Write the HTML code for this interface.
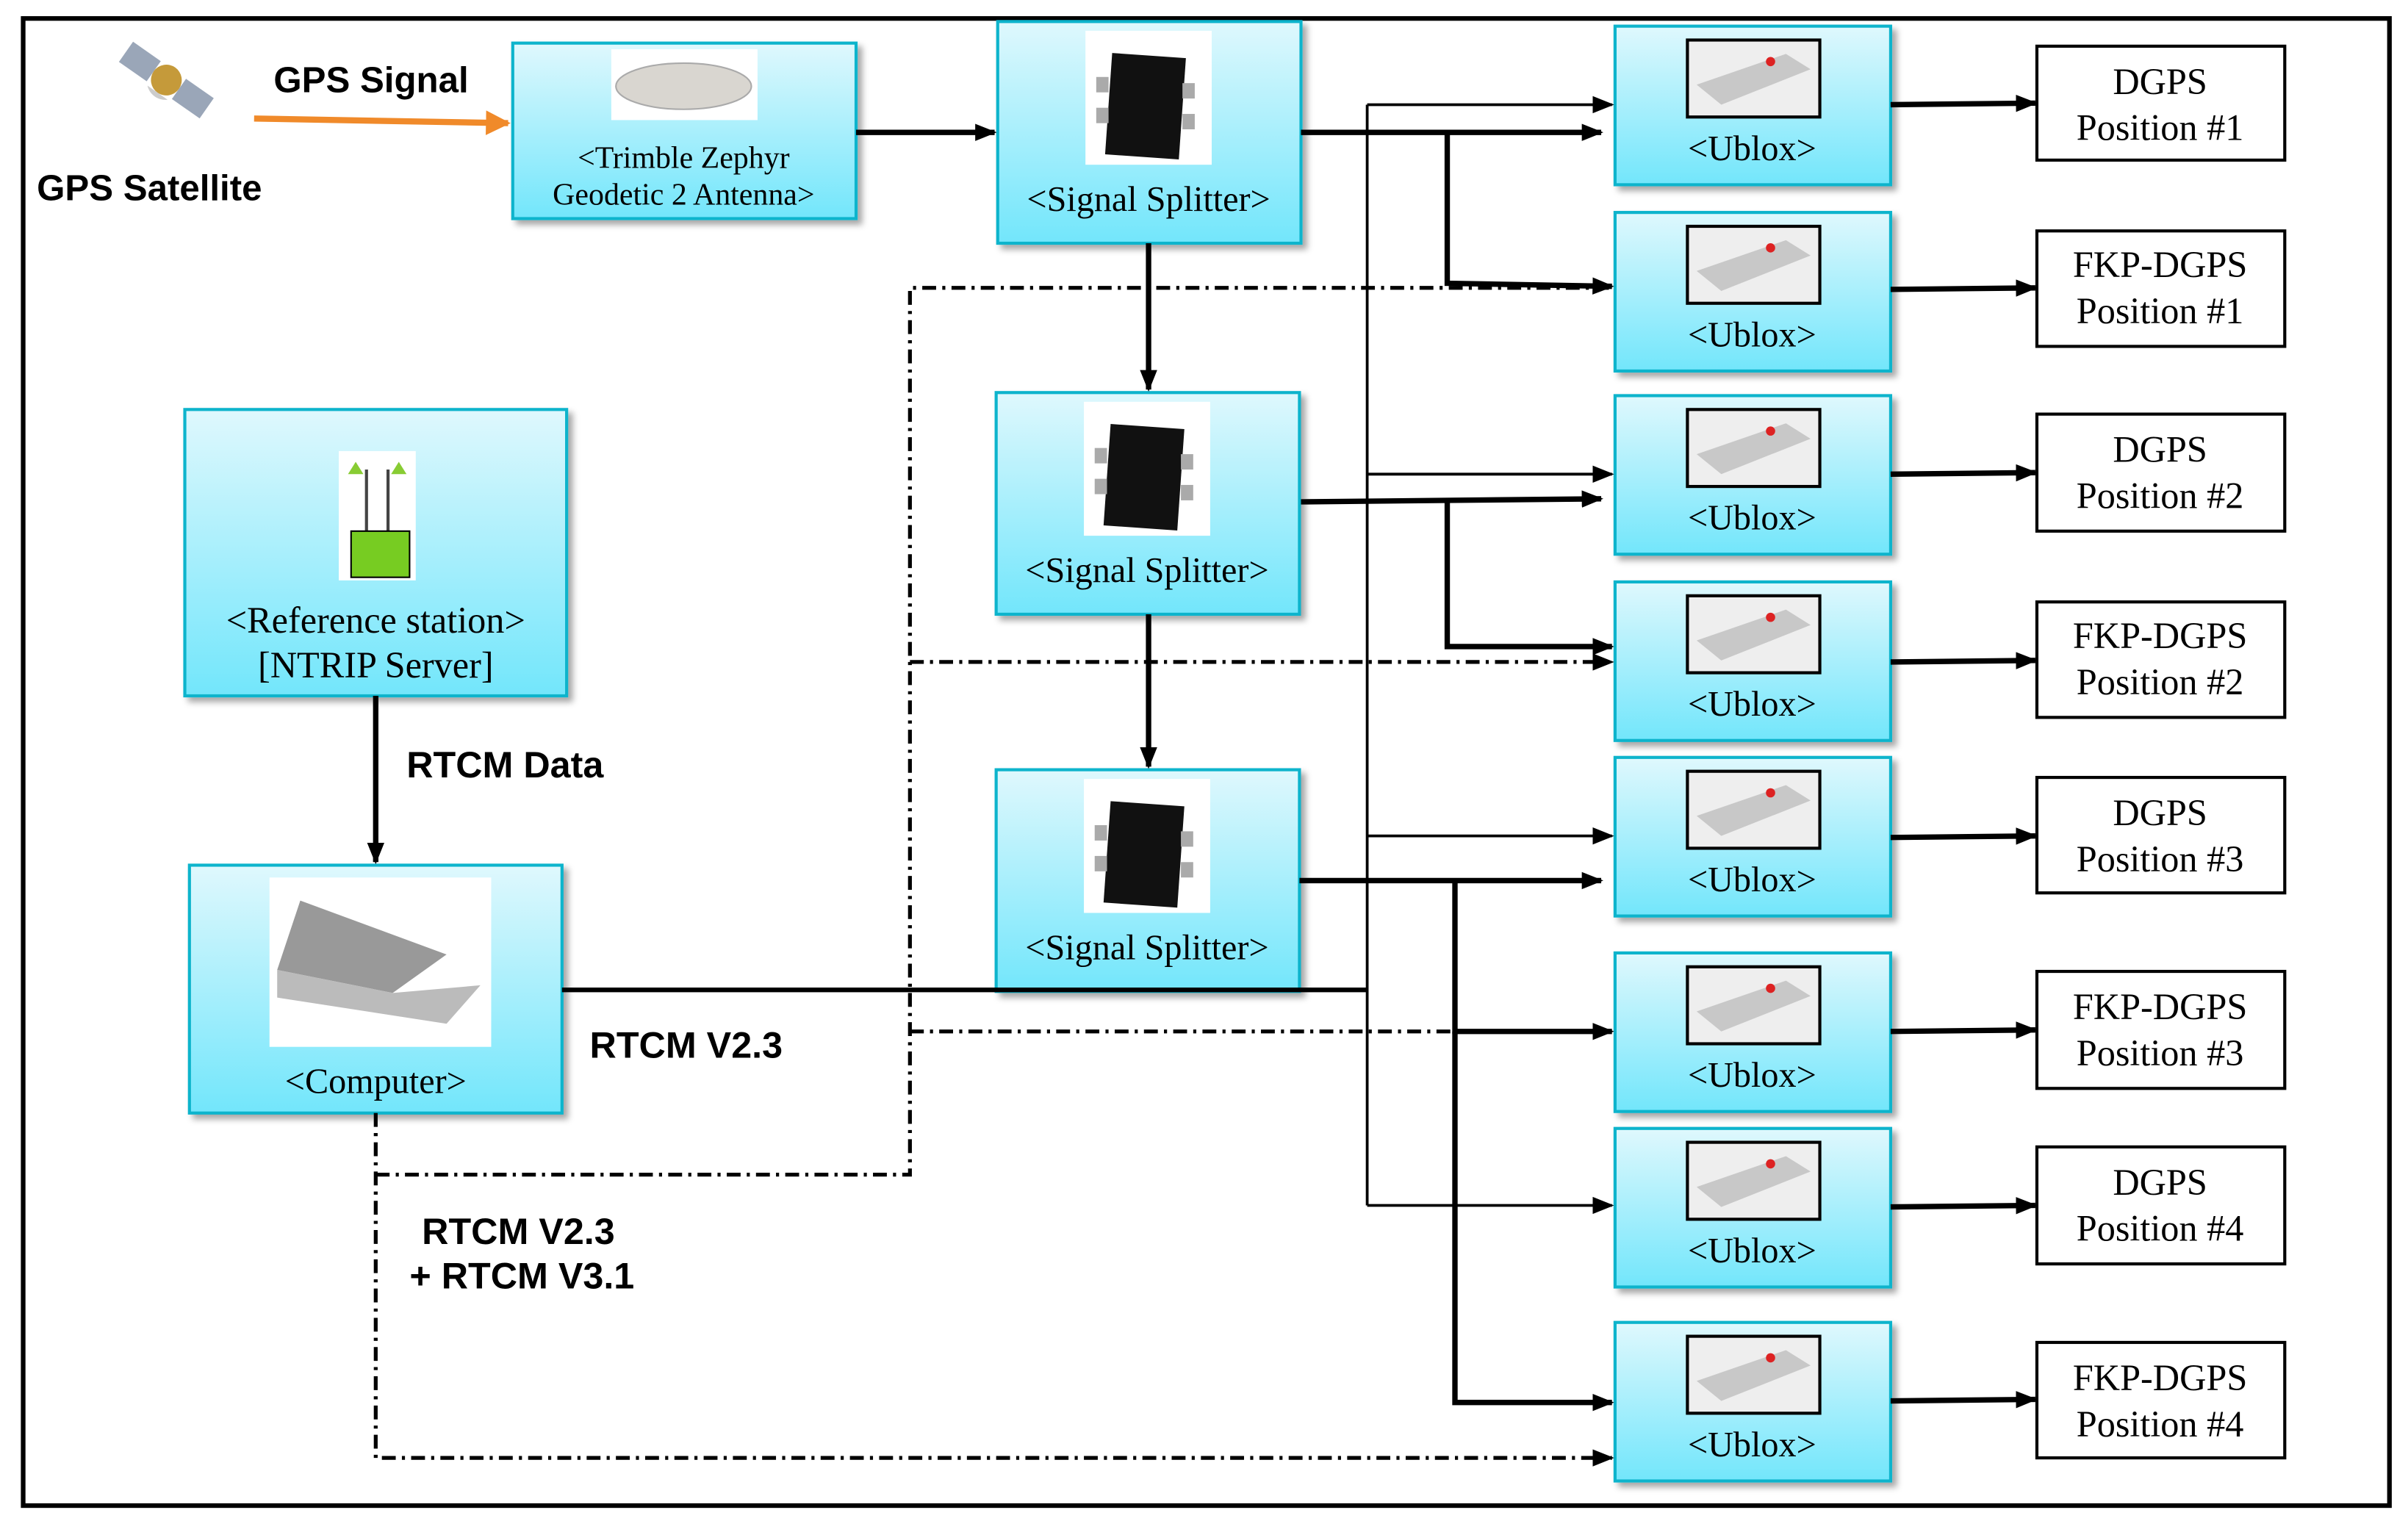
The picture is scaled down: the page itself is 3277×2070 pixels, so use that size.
<!DOCTYPE html>
<html><head><meta charset="utf-8"><style>html,body{margin:0;padding:0;background:#fff}svg{display:block}</style></head>
<body>
<svg width="3277" height="2070" viewBox="0 0 1564 988" xmlns="http://www.w3.org/2000/svg">
<defs>
<linearGradient id="g" x1="0" y1="0" x2="0" y2="1"><stop offset="0" stop-color="#dff8fd"/><stop offset="1" stop-color="#72e6fb"/></linearGradient>
<marker id="ab" viewBox="0 0 10 10" refX="9" refY="5" markerWidth="14" markerHeight="14" orient="auto" markerUnits="userSpaceOnUse"><path d="M0,1 L10,5 L0,9 z" fill="#000"/></marker>
<marker id="ao" viewBox="0 0 10 10" refX="9" refY="5" markerWidth="16" markerHeight="16" orient="auto" markerUnits="userSpaceOnUse"><path d="M0,0 L10,5 L0,10 z" fill="#f08a2a"/></marker>
<filter id="sh"><feDropShadow dx="3" dy="3" stdDeviation="2" flood-opacity="0.35"/></filter>
</defs>
<rect x="15" y="12" width="1537" height="966" fill="none" stroke="#000" stroke-width="3"/>

<g transform="translate(108,52) rotate(35)"><rect x="-32" y="-8" width="22" height="16" fill="#9aa6b8"/><rect x="10" y="-8" width="22" height="16" fill="#9aa6b8"/><circle cx="0" cy="0" r="10" fill="#c59a3a"/><path d="M-8,10 a12,12 0 0,0 16,0" fill="#ccc"/></g>
<text x="97" y="130" font-family="Liberation Sans,sans-serif" font-weight="bold" font-size="23.5" text-anchor="middle">GPS Satellite</text>
<text x="241" y="60" font-family="Liberation Sans,sans-serif" font-weight="bold" font-size="23.5" text-anchor="middle">GPS Signal</text>
<line x1="165" y1="77" x2="330" y2="80" stroke="#f08a2a" stroke-width="4" marker-end="url(#ao)"/>

<g font-family="Liberation Serif,serif" text-anchor="middle" fill="#000">
<rect x="333" y="28" width="223" height="114" fill="url(#g)" stroke="#10b4cc" stroke-width="2" filter="url(#sh)"/>
<rect x="397" y="32" width="95" height="46" fill="#fff"/><ellipse cx="444" cy="56" rx="44" ry="15" fill="#d9d6d0" stroke="#aaa"/>
<text x="444" y="109" font-size="20">&lt;Trimble Zephyr</text><text x="444" y="133" font-size="20">Geodetic 2 Antenna&gt;</text>

<g id="sp">
<rect x="648" y="14" width="197" height="144" fill="url(#g)" stroke="#10b4cc" stroke-width="2" filter="url(#sh)"/>
<rect x="705" y="20" width="82" height="87" fill="#fff"/><rect x="720" y="36" width="48" height="66" fill="#111" transform="rotate(4 744 69)"/><rect x="712" y="50" width="8" height="10" fill="#aaa"/><rect x="768" y="54" width="8" height="10" fill="#aaa"/><rect x="712" y="70" width="8" height="10" fill="#aaa"/><rect x="768" y="74" width="8" height="10" fill="#aaa"/>
<text x="746" y="137" font-size="23">&lt;Signal Splitter&gt;</text>
</g>
<use href="#sp" transform="translate(-1,241)"/>
<use href="#sp" transform="translate(-1,486)"/>

<rect x="120" y="266" width="248" height="186" fill="url(#g)" stroke="#10b4cc" stroke-width="2" filter="url(#sh)"/>
<rect x="220" y="293" width="50" height="84" fill="#fff"/>
<line x1="238" y1="305" x2="238" y2="345" stroke="#444" stroke-width="2"/><line x1="252" y1="305" x2="252" y2="345" stroke="#444" stroke-width="2"/>
<path d="M231,300 l-5,8 h10z M259,300 l-5,8 h10z" fill="#8c3"/>
<rect x="228" y="345" width="38" height="30" fill="#7c2" stroke="#000"/>
<text x="244" y="411" font-size="24">&lt;Reference station&gt;</text><text x="244" y="440" font-size="24">[NTRIP Server]</text>

<rect x="123" y="562" width="242" height="161" fill="url(#g)" stroke="#10b4cc" stroke-width="2" filter="url(#sh)"/>
<rect x="175" y="570" width="144" height="110" fill="#fff"/>
<path d="M195,585 L290,620 L255,645 L180,630 Z" fill="#999"/><path d="M180,630 L255,645 L312,640 L290,665 L180,648 Z" fill="#bbb"/>
<text x="244" y="710" font-size="23">&lt;Computer&gt;</text>

<g id="ub">
<rect x="1049" y="17" width="179" height="103" fill="url(#g)" stroke="#10b4cc" stroke-width="2" filter="url(#sh)"/>
<rect x="1096" y="26" width="86" height="50" fill="#eee" stroke="#000" stroke-width="2"/><path d="M1102,55 L1160,35 L1176,45 L1118,68 Z" fill="#c8c8c8"/><circle cx="1150" cy="40" r="3" fill="#d22"/>
<text x="1138" y="104" font-size="23">&lt;Ublox&gt;</text>
</g>
<use href="#ub" y="121"/><use href="#ub" y="240"/><use href="#ub" y="361"/><use href="#ub" y="475"/><use href="#ub" y="602"/><use href="#ub" y="716"/><use href="#ub" y="842"/>

<g font-size="24">
<rect x="1323" y="30" width="161" height="74" fill="#fff" stroke="#000" stroke-width="2"/><text x="1403" y="61">DGPS</text><text x="1403" y="91">Position #1</text>
<rect x="1323" y="150" width="161" height="75" fill="#fff" stroke="#000" stroke-width="2"/><text x="1403" y="180">FKP-DGPS</text><text x="1403" y="210">Position #1</text>
<rect x="1323" y="269" width="161" height="76" fill="#fff" stroke="#000" stroke-width="2"/><text x="1403" y="300">DGPS</text><text x="1403" y="330">Position #2</text>
<rect x="1323" y="391" width="161" height="75" fill="#fff" stroke="#000" stroke-width="2"/><text x="1403" y="421">FKP-DGPS</text><text x="1403" y="451">Position #2</text>
<rect x="1323" y="505" width="161" height="75" fill="#fff" stroke="#000" stroke-width="2"/><text x="1403" y="536">DGPS</text><text x="1403" y="566">Position #3</text>
<rect x="1323" y="631" width="161" height="76" fill="#fff" stroke="#000" stroke-width="2"/><text x="1403" y="662">FKP-DGPS</text><text x="1403" y="692">Position #3</text>
<rect x="1323" y="745" width="161" height="76" fill="#fff" stroke="#000" stroke-width="2"/><text x="1403" y="776">DGPS</text><text x="1403" y="806">Position #4</text>
<rect x="1323" y="872" width="161" height="75" fill="#fff" stroke="#000" stroke-width="2"/><text x="1403" y="903">FKP-DGPS</text><text x="1403" y="933">Position #4</text>
</g>
</g>

<g font-family="Liberation Sans,sans-serif" font-weight="bold" font-size="24">
<text x="264" y="505">RTCM Data</text>
<text x="383" y="687">RTCM V2.3</text>
<text x="274" y="808">RTCM V2.3</text>
<text x="266" y="837">+ RTCM V3.1</text>
</g>

<g stroke="#000" stroke-width="3.5" fill="none">
<line x1="556" y1="86" x2="646" y2="86" marker-end="url(#ab)"/>
<line x1="746" y1="158" x2="746" y2="253" marker-end="url(#ab)"/>
<line x1="746" y1="399" x2="746" y2="498" marker-end="url(#ab)"/>
<line x1="244" y1="452" x2="244" y2="560" marker-end="url(#ab)"/>
<line x1="845" y1="86" x2="1040" y2="86" marker-end="url(#ab)"/>
<polyline points="940,86 940,184 1047,186" marker-end="url(#ab)"/>
<line x1="845" y1="326" x2="1040" y2="324" marker-end="url(#ab)"/>
<polyline points="940,326 940,420 1047,420" marker-end="url(#ab)"/>
<line x1="844" y1="572" x2="1040" y2="572" marker-end="url(#ab)"/>
<polyline points="945,572 945,670 1047,670" marker-end="url(#ab)"/>
<polyline points="945,670 945,911 1047,911" marker-end="url(#ab)"/>
<line x1="1228" y1="68" x2="1322" y2="67" marker-end="url(#ab)"/>
<line x1="1228" y1="188" x2="1322" y2="187" marker-end="url(#ab)"/>
<line x1="1228" y1="308" x2="1322" y2="307" marker-end="url(#ab)"/>
<line x1="1228" y1="430" x2="1322" y2="429" marker-end="url(#ab)"/>
<line x1="1228" y1="544" x2="1322" y2="543" marker-end="url(#ab)"/>
<line x1="1228" y1="670" x2="1322" y2="669" marker-end="url(#ab)"/>
<line x1="1228" y1="784" x2="1322" y2="783" marker-end="url(#ab)"/>
<line x1="1228" y1="910" x2="1322" y2="909" marker-end="url(#ab)"/>
</g>
<g stroke="#000" stroke-width="1.8" fill="none">
<line x1="365" y1="643" x2="888" y2="643" stroke-width="3"/>
<line x1="888" y1="68" x2="888" y2="783"/>
<line x1="888" y1="68" x2="1047" y2="68" marker-end="url(#ab)"/>
<line x1="888" y1="308" x2="1047" y2="308" marker-end="url(#ab)"/>
<line x1="888" y1="543" x2="1047" y2="543" marker-end="url(#ab)"/>
<line x1="888" y1="783" x2="1047" y2="783" marker-end="url(#ab)"/>
</g>
<g stroke="#000" stroke-width="2.5" fill="none" stroke-dasharray="9,4,2,4">
<polyline points="244,723 244,947 1047,947" marker-end="url(#ab)"/>
<polyline points="244,763 591,763 591,187 1047,187"/>
<line x1="591" y1="430" x2="1047" y2="430" marker-end="url(#ab)"/>
<line x1="591" y1="670" x2="1047" y2="670"/>
</g>
</svg>
</body></html>
